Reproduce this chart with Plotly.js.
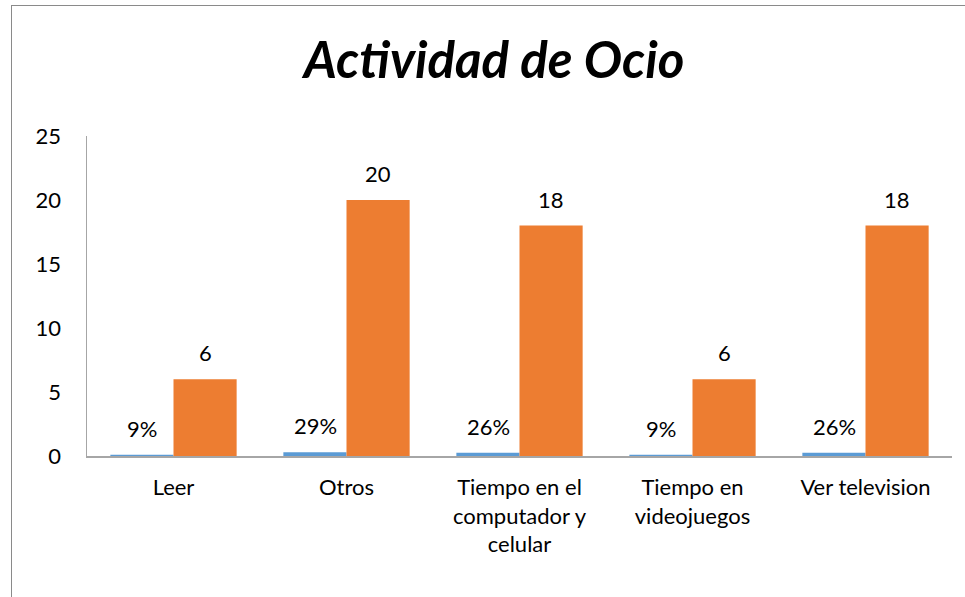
<!DOCTYPE html>
<html><head><meta charset="utf-8">
<script src="https://cdn.plot.ly/plotly-3.0.1.min.js"></script>
<style>html,body{margin:0;padding:0;background:#fff}#frame{position:absolute;left:11px;top:5px;width:970px;height:600px;border:1.5px solid #8a8a8a;pointer-events:none}</style>
</head><body>
<div id="chart" style="width:965px;height:597px"></div>
<div id="frame"></div>
<script>
const categories = ["Leer", "Otros", "Tiempo en el<br>computador y<br>celular", "Tiempo en<br>videojuegos", "Ver television"];
const percentValues = [0.09, 0.29, 0.26, 0.09, 0.26];
const percentLabels = ["9%", "29%", "26%", "9%", "26%"];
const countValues = [6, 20, 18, 6, 18];
const countLabels = ["6", "20", "18", "6", "18"];
const yTicks = [0, 5, 10, 15, 20, 25];

const font = "Lato, Calibri, 'Noto Sans', sans-serif";
const traces = [
  {type: "bar", x: categories, y: percentValues, marker: {color: "#5B9BD5"}, name: "Porcentaje", hoverinfo: "skip"},
  {type: "bar", x: categories, y: countValues, marker: {color: "#ED7D31"}, name: "Cantidad", hoverinfo: "skip"}
];
const annotations = [];
categories.forEach((c, i) => {
  annotations.push({x: c, y: percentValues[i], xref: "x", yref: "y", text: percentLabels[i], showarrow: false, xshift: -31.5, yanchor: "bottom", yshift: 11, font: {size: 22, color: "#000", family: font}});
  annotations.push({x: c, y: countValues[i], xref: "x", yref: "y", text: countLabels[i], showarrow: false, xshift: 31.5, yanchor: "bottom", yshift: 11, font: {size: 22, color: "#000", family: font}});
});
const layout = {
  width: 965, height: 597,
  margin: {l: 87, r: 13, t: 136, b: 141},
  paper_bgcolor: "#fff", plot_bgcolor: "#fff",
  showlegend: false,
  barmode: "group", bargap: 0.27, bargroupgap: 0,
  title: {text: "<b><i>Actividad de Ocio</i></b>", x: 0.512, xref: "container", xanchor: "center", y: 0.9, yref: "container", yanchor: "middle", font: {family: font, size: 51, color: "#000"}},
  font: {family: font, size: 22, color: "#000"},
  xaxis: {type: "category", showline: true, linecolor: "#a6a6a6", linewidth: 1.5, ticks: "", showgrid: false, tickfont: {size: 22}, ticklabelstandoff: 11, fixedrange: true},
  yaxis: {range: [0, 25], tickvals: yTicks, ticktext: yTicks.map(String), showline: true, linecolor: "#a6a6a6", linewidth: 1.5, ticks: "", showgrid: false, zeroline: false, tickfont: {size: 22}, ticklabelstandoff: 20, fixedrange: true},
  annotations: annotations
};
Plotly.newPlot("chart", traces, layout, {displayModeBar: false, staticPlot: true});
</script>
</body></html>
